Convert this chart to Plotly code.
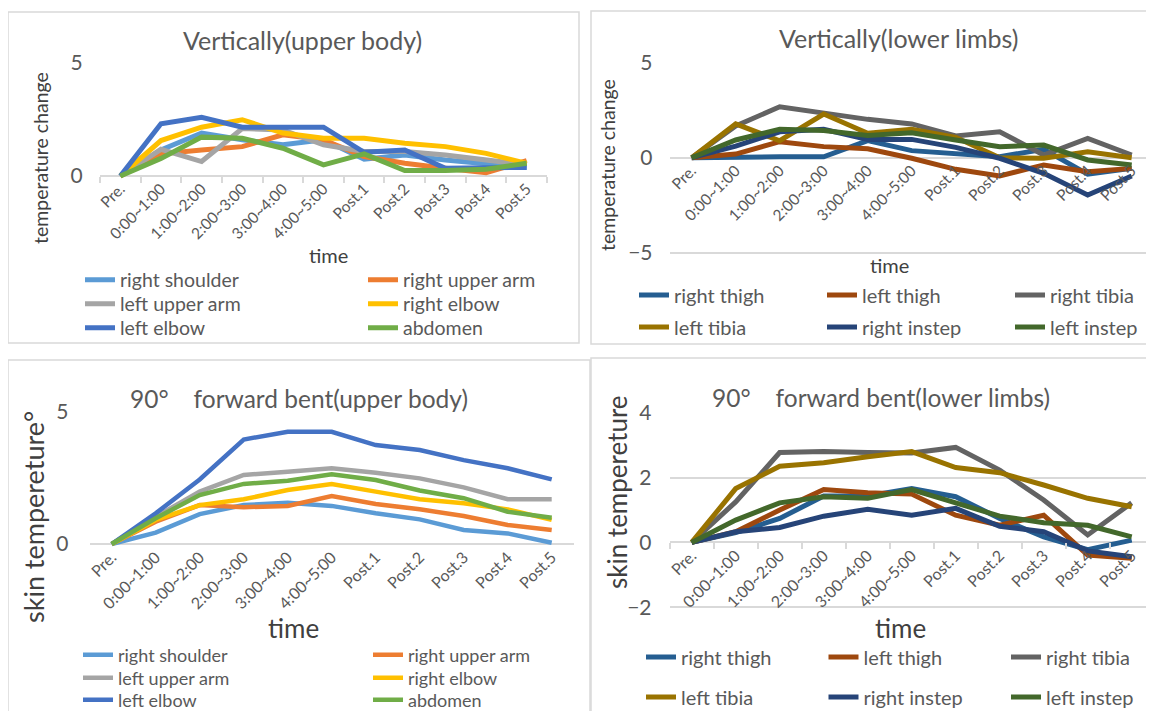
import plotly.graph_objects as go

# browser page has an 8px body margin: the figure is sized/offset to fill the window exactly
OFF = 8
W, H = 1154 - OFF, 711 - OFF
FONT = "Lato"

categories = ["Pre.", "0:00~1:00", "1:00~2:00", "2:00~3:00", "3:00~4:00", "4:00~5:00",
              "Post.1", "Post.2", "Post.3", "Post.4", "Post.5"]

upper_names = ["right shoulder", "right upper arm", "left upper arm", "right elbow", "left elbow", "abdomen"]
upper_colors = ["#5B9BD5", "#ED7D31", "#A5A5A5", "#FFC000", "#4472C4", "#70AD47"]
lower_names = ["right thigh", "left thigh", "right tibia", "left tibia", "right instep", "left instep"]
lower_colors = ["#255E91", "#9E480E", "#636363", "#997300", "#264478", "#43682B"]

# ---- Vertically (upper body) ----
vu_right_shoulder = [0, 1.15, 1.90, 1.60, 1.38, 1.60, 0.74, 0.93, 0.71, 0.56, 0.38]
vu_right_upper_arm = [0, 0.98, 1.15, 1.30, 1.82, 1.60, 0.86, 0.56, 0.34, 0.15, 0.68]
vu_left_upper_arm = [0, 1.18, 0.64, 2.10, 2.04, 1.38, 1.08, 1.08, 0.93, 0.71, 0.49]
vu_right_elbow = [0, 1.57, 2.16, 2.49, 1.90, 1.67, 1.67, 1.45, 1.30, 1.00, 0.56]
vu_left_elbow = [0, 2.31, 2.60, 2.16, 2.16, 2.16, 1.05, 1.15, 0.34, 0.34, 0.38]
vu_abdomen = [0, 0.78, 1.72, 1.67, 1.23, 0.49, 0.98, 0.24, 0.24, 0.30, 0.56]

# ---- Vertically (lower limbs) ----
vl_right_thigh = [0, 0.05, 0.05, 0.05, 0.90, 0.37, 0.19, 0.05, 0.44, -0.86, -0.56]
vl_left_thigh = [0, 0.19, 0.84, 0.58, 0.47, -0.03, -0.61, -0.96, -0.38, -0.73, -0.56]
vl_right_tibia = [0, 1.66, 2.67, 2.33, 2.01, 1.77, 1.14, 1.36, 0.14, 1.01, 0.14]
vl_left_tibia = [0, 1.77, 0.89, 2.29, 1.28, 1.49, 1.07, 0.00, -0.03, 0.31, 0.00]
vl_right_instep = [0, 0.61, 1.36, 1.49, 0.96, 0.96, 0.54, -0.03, -0.82, -1.96, -0.96]
vl_left_instep = [0, 0.93, 1.49, 1.42, 1.17, 1.31, 0.93, 0.58, 0.66, -0.12, -0.38]

# ---- 90 forward bent (upper body) ----
fu_right_shoulder = [0, 0.43, 1.13, 1.47, 1.56, 1.44, 1.16, 0.93, 0.53, 0.40, 0.05]
fu_right_upper_arm = [0, 0.84, 1.47, 1.39, 1.44, 1.81, 1.51, 1.31, 1.06, 0.72, 0.53]
fu_left_upper_arm = [0, 1.03, 1.98, 2.61, 2.73, 2.86, 2.69, 2.48, 2.14, 1.69, 1.69]
fu_right_elbow = [0, 0.91, 1.47, 1.69, 2.04, 2.27, 1.98, 1.69, 1.54, 1.31, 0.91]
fu_left_elbow = [0, 1.16, 2.44, 3.95, 4.24, 4.24, 3.74, 3.55, 3.17, 2.86, 2.44]
fu_abdomen = [0, 0.97, 1.85, 2.27, 2.39, 2.64, 2.42, 2.02, 1.73, 1.22, 0.99]

# ---- 90 forward bent (lower limbs) ----
fl_right_thigh = [0, 0.30, 0.74, 1.43, 1.43, 1.66, 1.41, 0.74, 0.17, -0.22, 0.07]
fl_left_thigh = [0, 0.33, 1.00, 1.63, 1.53, 1.49, 0.84, 0.53, 0.84, -0.39, -0.49]
fl_right_tibia = [0, 1.25, 2.77, 2.80, 2.77, 2.76, 2.93, 2.23, 1.31, 0.23, 1.22]
fl_left_tibia = [0, 1.66, 2.35, 2.46, 2.64, 2.80, 2.31, 2.15, 1.77, 1.36, 1.10]
fl_right_instep = [0, 0.33, 0.46, 0.81, 1.02, 0.84, 1.05, 0.50, 0.33, -0.26, -0.44]
fl_left_instep = [0, 0.69, 1.22, 1.41, 1.36, 1.63, 1.22, 0.81, 0.61, 0.53, 0.17]

panel_series = [
    [vu_right_shoulder, vu_right_upper_arm, vu_left_upper_arm, vu_right_elbow, vu_left_elbow, vu_abdomen],
    [vl_right_thigh, vl_left_thigh, vl_right_tibia, vl_left_tibia, vl_right_instep, vl_left_instep],
    [fu_right_shoulder, fu_right_upper_arm, fu_left_upper_arm, fu_right_elbow, fu_left_elbow, fu_abdomen],
    [fl_right_thigh, fl_left_thigh, fl_right_tibia, fl_left_tibia, fl_right_instep, fl_left_instep],
]
panel_titles = ["Vertically(upper body)", "Vertically(lower limbs)",
                "90°\u3000forward bent(upper body)", "90°\u3000forward bent(lower limbs)"]
panel_ytitles = ["temperature change", "temperature change", "skin tempereture°", "skin tempereture"]

# ---------- layout geometry (window pixels) ----------
def fx(x):
    return (x - OFF) / W

def fy(y):
    return 1 - (y - OFF) / H

panels = [
    dict(x0=100, x1=547, ytop=63, ybot=176, ymin=0, ymax=5, tv=[0, 5], zero=176, xt=True,
         names=upper_names, colors=upper_colors, lw=5, tickfs=15.5, ytickfs=21, ystand=12,
         title=(302, 40, 25), ytitle=(40, 158, 19.5), xtitle=(328, 255, 20),
         legrows=[280, 304, 328], legcols=[122, 405], legfs=19.5),
    dict(x0=669.7, x1=1153.7, ytop=62.3, ybot=253.1, ymin=-5, ymax=5, tv=[-5, 0, 5], zero=157.7, xt=False,
         names=lower_names, colors=lower_colors, lw=5, tickfs=15.5, ytickfs=21, ystand=12,
         title=(898, 38, 25), ytitle=(607, 165, 19.5), xtitle=(889, 265, 20),
         legrows=[295, 327], legcols=[676, 864, 1052], legfs=20),
    dict(x0=89.7, x1=573.7, ytop=411.7, ybot=544, ymin=0, ymax=5, tv=[0, 5], zero=544, xt=False,
         names=upper_names, colors=upper_colors, lw=4.5, tickfs=16, ytickfs=21, ystand=16,
         title=(299, 398, 24.5), ytitle=(33, 517, 27), xtitle=(293, 628, 26),
         legrows=[655, 678, 700], legcols=[120, 410], legfs=18),
    dict(x0=669.7, x1=1153.7, ytop=412.7, ybot=607.3, ymin=-2, ymax=4, tv=[-2, 0, 2, 4], zero=542.4, xt=True,
         names=lower_names, colors=lower_colors, lw=5, tickfs=16, ytickfs=21, ystand=13,
         title=(881, 397, 24.5), ytitle=(617, 492, 26), xtitle=(900, 628, 26),
         legrows=[657, 697], legcols=[683, 865.5, 1048], legfs=20),
]

fig = go.Figure()
layout = dict(width=W, height=H, autosize=False,
              margin=dict(l=0, r=0, t=0, b=0, pad=0, autoexpand=False),
              paper_bgcolor="white", plot_bgcolor="white",
              font=dict(family=FONT, color="#595959"), showlegend=True)
annotations = []
shapes = []

legend_count = 0
for pi, p in enumerate(panels):
    n = pi + 1
    xa = "xaxis" if n == 1 else f"xaxis{n}"
    ya = "yaxis" if n == 1 else f"yaxis{n}"
    xr = "x" if n == 1 else f"x{n}"
    yr = "y" if n == 1 else f"y{n}"
    ppu = (p["ybot"] - p["ytop"]) / (p["ymax"] - p["ymin"])
    pad = 5
    ybot = p["ybot"] + pad
    ymin = p["ymin"] - pad / ppu

    layout[xa] = dict(domain=[fx(p["x0"]), min(1.0, fx(p["x1"]))], type="category",
                      categoryorder="array", categoryarray=categories,
                      range=[-0.5, len(categories) - 0.5],
                      anchor="free", position=fy(p["zero"]),
                      showgrid=False, zeroline=False, showline=False,
                      ticks="outside" if p["xt"] else "", tickson="boundaries",
                      ticklen=6, tickwidth=1.5, tickcolor="#D9D9D9",
                      tickangle=-45, tickfont=dict(family=FONT, size=p["tickfs"], color="#595959"),
                      automargin=False, fixedrange=True)
    layout[ya] = dict(domain=[fy(ybot), fy(p["ytop"])], range=[ymin, p["ymax"]],
                      anchor=xr, tickvals=p["tv"], showgrid=True, gridcolor="#D9D9D9", gridwidth=1.5,
                      zeroline=False, showline=False, ticks="outside", ticklen=p["ystand"],
                      tickcolor="rgba(0,0,0,0)",
                      tickfont=dict(family=FONT, size=p["ytickfs"], color="#595959"),
                      automargin=False, fixedrange=True)

    ncols = len(p["legcols"])
    series = panel_series[pi]
    for si, (name, color, vals) in enumerate(zip(p["names"], p["colors"], series)):
        row = si // ncols
        legname = "legend" if (legend_count + row) == 0 else f"legend{legend_count + row + 1}"
        fig.add_trace(go.Scatter(x=categories, y=vals, name=name, mode="lines",
                                 line=dict(color=color, width=p["lw"]),
                                 xaxis=xr, yaxis=yr, legend=legname, hoverinfo="skip"))
    nrows = len(p["legrows"])
    colgap = p["legcols"][1] - p["legcols"][0]
    for r in range(nrows):
        idx = legend_count + r
        legname = "legend" if idx == 0 else f"legend{idx + 1}"
        layout[legname] = dict(x=fx(p["legcols"][0] - 42), y=fy(p["legrows"][r]),
                               xanchor="left", yanchor="middle", orientation="h",
                               entrywidth=colgap - 45, entrywidthmode="pixels",
                               bgcolor="rgba(0,0,0,0)", borderwidth=0,
                               font=dict(family=FONT, size=p["legfs"], color="#595959"),
                               itemclick=False, itemdoubleclick=False)
    legend_count += nrows

    tx, ty, ts = p["title"]
    annotations.append(dict(text=panel_titles[pi], x=fx(tx), y=fy(ty), xref="paper", yref="paper",
                            xanchor="center", yanchor="middle", showarrow=False,
                            font=dict(family=FONT, size=ts, color="#595959")))
    yx, yy, ys = p["ytitle"]
    annotations.append(dict(text=panel_ytitles[pi], x=fx(yx), y=fy(yy), xref="paper", yref="paper",
                            xanchor="center", yanchor="middle", showarrow=False, textangle=-90,
                            font=dict(family=FONT, size=ys, color="#404040")))
    tx2, ty2, ts2 = p["xtitle"]
    annotations.append(dict(text="time", x=fx(tx2), y=fy(ty2), xref="paper", yref="paper",
                            xanchor="center", yanchor="middle", showarrow=False,
                            font=dict(family=FONT, size=ts2, color="#404040")))

# chart-area borders
borders = [(8, 12, 579, 343), (591, 11, 1160, 344), (8, 360, 590, 720), (591, 358, 1160, 720)]
for (bx0, by0, bx1, by1) in borders:
    shapes.append(dict(type="rect", xref="paper", yref="paper", x0=fx(bx0), x1=fx(bx1),
                       y0=fy(by1), y1=fy(by0), line=dict(color="#D9D9D9", width=1.5),
                       fillcolor="rgba(0,0,0,0)", layer="below"))

layout["annotations"] = annotations
layout["shapes"] = shapes
fig.update_layout(**layout)
fig.write_html("out.html")
